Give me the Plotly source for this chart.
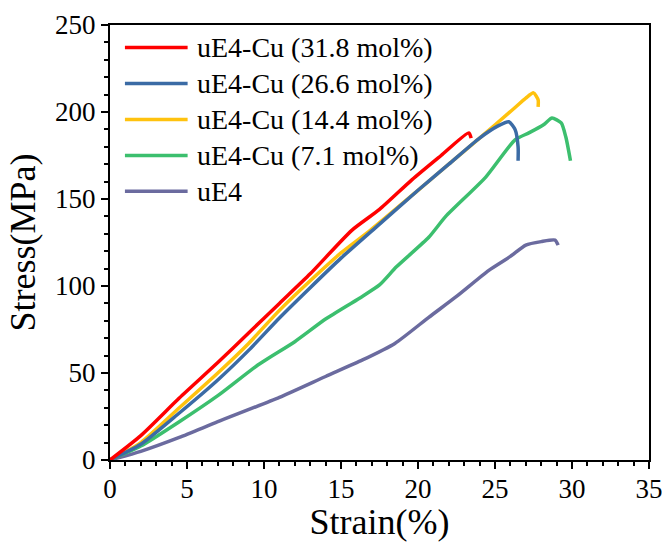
import plotly.graph_objects as go

# ---- data ----
names = ["uE4-Cu (31.8 mol%)", "uE4-Cu (26.6 mol%)", "uE4-Cu (14.4 mol%)",
         "uE4-Cu (7.1 mol%)", "uE4"]
colors = ["#FF0000", "#3B6BA5", "#FFC20E", "#3CBF6E", "#6B6B9F"]

strain_318 = [0, 2, 4.5, 7, 9, 11, 13, 15.7, 17.5, 19.6, 21.5, 23.3, 23.45]
stress_318 = [0, 14, 35.6, 56, 73, 90, 107, 132, 144, 161, 175, 188, 185]

strain_266 = [0, 2, 4.5, 7, 9, 11, 13, 15, 17.3, 20, 22, 24, 25.2, 25.9, 26.3, 26.5, 26.5]
stress_266 = [0, 9, 27, 46, 63, 81.6, 99, 116, 134, 155, 170, 185, 192, 194.4, 190, 180, 172]

strain_144 = [0, 2, 4.5, 7, 9, 11, 13, 15, 16.9, 20, 22, 24, 26.1, 27, 27.5, 27.8, 27.8]
stress_144 = [0, 10, 30, 50, 67, 86, 103, 119, 132, 155, 170, 185, 201, 208, 211, 207, 203]

strain_71 = [0, 2, 4.5, 7, 9.6, 12, 14, 16.2, 17.5, 18.6, 20.7, 21.8, 24.4, 26.3,
             27.2, 28.2, 28.7, 29.3, 29.6, 29.9]
stress_71 = [0, 8, 22, 37, 54.6, 68, 81, 93, 100.6, 111, 128, 140, 162.6, 184,
             188, 193, 196.5, 193.7, 185.6, 172]

strain_ue4 = [0, 2, 4.5, 7, 11, 14, 16.4, 18.5, 20.7, 22.5, 24.6, 26, 27, 28, 28.9, 29.1]
stress_ue4 = [0, 5, 13, 22, 36, 48, 57.5, 67, 82, 94, 109, 117, 123.5, 125.5, 126.4, 123.5]

x_ticks = [0, 5, 10, 15, 20, 25, 30, 35]
y_ticks = [0, 50, 100, 150, 200, 250]

series = [(strain_318, stress_318), (strain_266, stress_266), (strain_144, stress_144),
          (strain_71, stress_71), (strain_ue4, stress_ue4)]

FONT = "Liberation Serif"

fig = go.Figure()
# draw in reverse so that red is on top
for i in [4, 3, 2, 1, 0]:
    xs, ys = series[i]
    fig.add_trace(go.Scatter(
        x=xs, y=ys, mode="lines", name=names[i], showlegend=False,
        line=dict(color=colors[i], width=3.5, shape="spline", smoothing=0.6),
    ))

# legend drawn in paper coordinates (long line samples as in the original)
leg_x0, leg_x1, leg_tx = 0.0277, 0.144, 0.157
leg_y0, leg_dy = 0.948, 0.0826
for i, nm in enumerate(names):
    yy = leg_y0 - i * leg_dy
    fig.add_shape(type="line", xref="paper", yref="paper",
                  x0=leg_x0, x1=leg_x1, y0=yy, y1=yy,
                  line=dict(color=colors[i], width=3.5))
    fig.add_annotation(xref="paper", yref="paper", x=leg_tx, y=yy,
                       xanchor="left", yanchor="middle", showarrow=False,
                       text=nm, font=dict(family=FONT, size=28, color="black"))

axis_common = dict(
    showline=True, linecolor="black", linewidth=2, mirror=True,
    ticks="outside", ticklen=7, tickwidth=2, tickcolor="black",
    showgrid=False, zeroline=False, ticklabeloverflow="allow",
    automargin=False,
    tickfont=dict(family=FONT, size=27, color="black"),
)

fig.update_xaxes(
    range=[0, 35], tickvals=x_ticks, ticktext=[str(v) for v in x_ticks],
    ticklabelstandoff=-3,
    title=dict(text="Strain(%)", font=dict(family=FONT, size=36, color="black"), standoff=4),
    minor=dict(ticks="outside", ticklen=4, tickwidth=1.5, tickcolor="black", dtick=1, showgrid=False),
    **axis_common,
)
fig.update_yaxes(
    range=[0, 250], tickvals=y_ticks, ticktext=[str(v) for v in y_ticks],
    title=dict(text="Stress(MPa)", font=dict(family=FONT, size=36, color="black"), standoff=8),
    minor=dict(ticks="outside", ticklen=4, tickwidth=1.5, tickcolor="black", dtick=10, showgrid=False),
    **axis_common,
)

fig.update_layout(
    width=662, height=542,
    margin=dict(l=110, r=13, t=25, b=82),
    paper_bgcolor="white", plot_bgcolor="white",
    font=dict(family=FONT, color="black"),
    showlegend=False,
)

fig.write_html("out.html")
